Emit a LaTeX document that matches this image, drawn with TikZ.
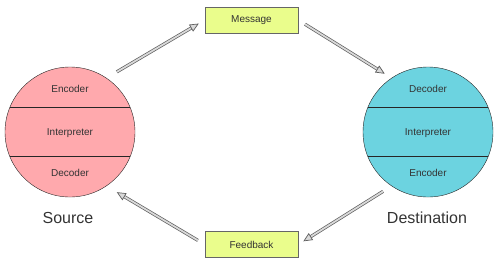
\documentclass[tikz,border=0pt]{standalone}
\usepackage{fontspec}
\setmainfont{Liberation Sans}
\usetikzlibrary{positioning,arrows.meta,calc}
\definecolor{crosa}{HTML}{FFA9AD}
\definecolor{ccian}{HTML}{6CD3E0}
\definecolor{clima}{HTML}{EAFD8C}
\definecolor{ctexto}{HTML}{333333}
\definecolor{cflecha}{HTML}{5E5E5E}
\tikzset{
  disco/.style={circle, draw=black!85, fill=#1, minimum size=130pt, inner sep=0pt},
  caja/.style={rectangle, draw=black!60, fill=clima, minimum width=93pt,
    minimum height=26pt, font=\fontsize{10}{12}\selectfont, text=ctexto},
  banda/.style={font=\fontsize{10}{12}\selectfont, text=ctexto},
  rotulo/.style={font=\fontsize{16}{19}\selectfont, text=ctexto},
  corte/.style={draw=black!85},
  flecha/.style={draw=cflecha, line width=0.7pt, double=black!15, double distance=1.8pt,
    -{Triangle[length=9pt, width=8pt, fill=black!15]}},
}
\begin{document}
\begin{tikzpicture}[x=1pt, y=-1pt]
  \useasboundingbox (0,0) rectangle (500,266);
  % emisor y receptor
  \node[disco=crosa] (src) at (70,132) {};
  \node[disco=ccian] (dst) at (428,132) {};
  \draw[corte] ($(src)+(-60,-25)$) -- ($(src)+(60,-25)$);
  \draw[corte] ($(src)+(-60,24)$) -- ($(src)+(60,24)$);
  \draw[corte] ($(dst)+(-60,-25)$) -- ($(dst)+(60,-25)$);
  \draw[corte] ($(dst)+(-60,24)$) -- ($(dst)+(60,24)$);
  \node[banda] (srcenc) at ($(src)+(0,-43)$) {Encoder};
  \node[banda] (srcint) at ($(src)+(0,1)$) {Interpreter};
  \node[banda] (srcdec) at ($(src)+(0,41)$) {Decoder};
  \node[banda] (dstdec) at ($(dst)+(0,-43)$) {Decoder};
  \node[banda] (dstint) at ($(dst)+(0,1)$) {Interpreter};
  \node[banda] (dstenc) at ($(dst)+(0,41)$) {Encoder};
  \node[rotulo] (srclbl) at (68,218) {Source};
  \node[rotulo] (dstlbl) at (427,218) {Destination};
  % mensajes
  \node[caja] (msg) at (251.5,20) {Message};
  \node[caja] (fb) at (251.5,244.5) {Feedback};
  \draw[flecha, shorten <=12pt, shorten >=7pt] (src.56) -- (msg.west);
  \draw[flecha, shorten <=8pt, shorten >=8pt] (msg.east) -- (dst.124);
  \draw[flecha, shorten <=10pt, shorten >=6pt] (dst.236) -- (fb.east);
  \draw[flecha, shorten <=8pt, shorten >=12pt] (fb.west) -- (src.304);
\end{tikzpicture}
\end{document}
